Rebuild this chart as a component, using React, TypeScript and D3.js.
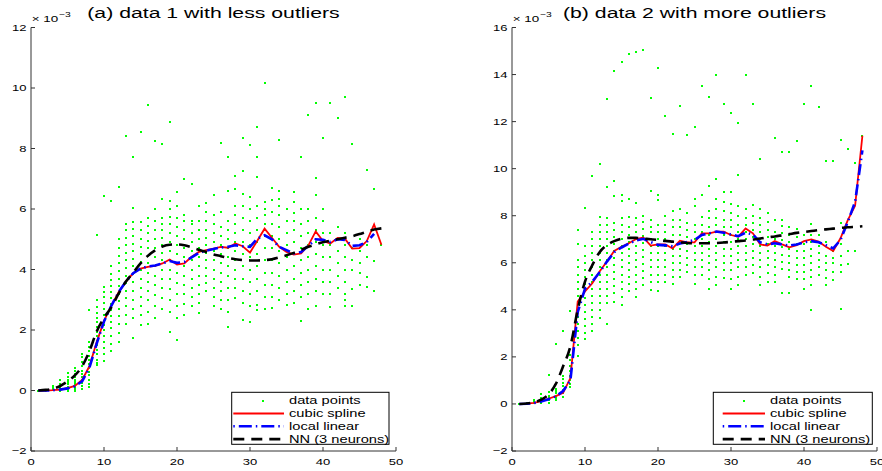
import React from "react";
import * as d3 from "d3";

// ---------- data (values in units of 1e-3) ----------
const xs = d3.range(1, 49);

const splineA = [0, 0, 0.01, 0.03, 0.08, 0.15, 0.35, 0.8, 1.6, 2.3, 2.8, 3.25, 3.6, 3.88, 4.03, 4.09, 4.12, 4.2, 4.33, 4.16, 4.2, 4.42, 4.58, 4.64, 4.69, 4.75, 4.72, 4.86, 4.77, 4.56, 4.95, 5.35, 5.05, 4.75, 4.58, 4.49, 4.53, 4.8, 5.26, 4.94, 4.86, 5.04, 5.02, 4.69, 4.71, 4.94, 5.49, 4.82];
const localA = [0, 0, 0.01, 0.03, 0.07, 0.14, 0.3, 0.75, 1.55, 2.28, 2.8, 3.25, 3.6, 3.88, 4.03, 4.1, 4.13, 4.2, 4.28, 4.22, 4.25, 4.4, 4.55, 4.62, 4.68, 4.73, 4.75, 4.8, 4.77, 4.75, 5.02, 5.13, 5.0, 4.75, 4.64, 4.53, 4.58, 4.78, 5.0, 4.98, 4.91, 5.0, 4.98, 4.78, 4.8, 4.91, 5.18];
const nnA = [0, 0.02, 0.06, 0.15, 0.3, 0.5, 0.8, 1.3, 1.95, 2.4, 2.75, 3.2, 3.6, 3.9, 4.2, 4.45, 4.63, 4.76, 4.82, 4.83, 4.8, 4.73, 4.65, 4.58, 4.5, 4.44, 4.38, 4.34, 4.31, 4.3, 4.3, 4.31, 4.34, 4.4, 4.47, 4.55, 4.65, 4.75, 4.83, 4.9, 4.95, 5.0, 5.05, 5.1, 5.17, 5.25, 5.32, 5.36];

const splineB = [0, 0.01, 0.05, 0.12, 0.22, 0.33, 0.47, 1.1, 4.35, 4.78, 5.13, 5.63, 6.05, 6.5, 6.68, 6.83, 7.01, 7.07, 6.73, 6.78, 6.78, 6.61, 6.94, 6.87, 6.87, 7.25, 7.25, 7.32, 7.32, 7.18, 7.11, 7.46, 7.25, 6.78, 6.73, 6.92, 6.78, 6.66, 6.75, 6.92, 6.99, 6.9, 6.68, 6.5, 7.04, 7.81, 8.42, 11.4];
const localB = [0, 0.01, 0.04, 0.1, 0.2, 0.32, 0.55, 1.0, 3.9, 4.9, 5.2, 5.6, 6.05, 6.45, 6.65, 6.82, 6.95, 7.02, 6.88, 6.76, 6.74, 6.7, 6.82, 6.88, 6.97, 7.18, 7.25, 7.33, 7.28, 7.2, 7.13, 7.28, 7.2, 6.87, 6.78, 6.83, 6.78, 6.73, 6.78, 6.87, 6.92, 6.87, 6.75, 6.61, 6.97, 7.74, 8.59, 10.78];
const nnB = [0, 0.02, 0.07, 0.18, 0.4, 0.85, 1.6, 2.45, 4.0, 5.2, 5.9, 6.45, 6.75, 6.92, 7.02, 7.06, 7.06, 7.03, 7.0, 6.97, 6.93, 6.9, 6.87, 6.84, 6.83, 6.83, 6.83, 6.84, 6.86, 6.89, 6.92, 6.95, 6.99, 7.03, 7.08, 7.12, 7.17, 7.22, 7.27, 7.31, 7.35, 7.39, 7.42, 7.45, 7.48, 7.51, 7.53, 7.55];

const scatterA: [number, number[]][] = [
  [1, [0]],
  [2, [0, 0.02]],
  [3, [0.02, 0.08, 0.14]],
  [4, [0, 0.05, 0.12, 0.2, 0.35]],
  [5, [0, 0.05, 0.12, 0.2, 0.28, 0.36, 0.45, 0.58]],
  [6, [0, 0.06, 0.13, 0.2, 0.28, 0.36, 0.45, 0.55, 0.65, 0.75]],
  [7, [0.05, 0.15, 0.25, 0.35, 0.45, 0.55, 0.65, 0.8, 0.95, 1.1, 1.2]],
  [8, [0.1, 0.2, 0.35, 0.5, 0.62, 0.75, 0.88, 1.0, 1.15, 1.3, 1.45, 1.6, 2.66]],
  [9, [0.85, 0.91, 1.0, 1.2, 1.35, 1.5, 1.65, 1.8, 1.95, 2.1, 2.25, 2.4, 2.55, 2.75, 3.0, 5.15]],
  [10, [0.96, 1.2, 1.4, 1.6, 1.8, 2.0, 2.15, 2.3, 2.5, 2.7, 2.9, 3.1, 3.25, 3.43, 6.43]],
  [11, [1.3, 1.55, 1.8, 2.05, 2.25, 2.45, 2.65, 2.85, 3.05, 3.25, 3.45, 3.65, 3.85, 4.1, 6.26]],
  [12, [1.6, 1.9, 2.2, 2.45, 2.7, 2.95, 3.2, 3.45, 3.7, 3.95, 4.2, 4.45, 4.7, 5.0, 6.74]],
  [13, [2.2, 2.5, 2.8, 3.05, 3.3, 3.55, 3.8, 4.05, 4.3, 4.55, 4.8, 5.05, 5.3, 5.5, 8.42]],
  [14, [1.73, 2.4, 2.7, 3.0, 3.3, 3.6, 3.85, 4.1, 4.35, 4.6, 4.85, 5.1, 5.35, 5.57, 6.04, 7.71]],
  [15, [2.17, 2.5, 2.8, 3.1, 3.4, 3.7, 4.0, 4.25, 4.5, 4.75, 5.0, 5.3, 5.57, 8.53]],
  [16, [2.2, 2.6, 3.0, 3.3, 3.6, 3.9, 4.2, 4.45, 4.7, 4.95, 5.2, 5.45, 5.7, 9.45]],
  [17, [2.4, 2.8, 3.15, 3.5, 3.8, 4.1, 4.4, 4.7, 5.0, 5.3, 5.6, 6.0, 8.26]],
  [18, [2.7, 3.05, 3.4, 3.7, 4.0, 4.3, 4.55, 4.8, 5.05, 5.3, 5.5, 5.7, 6.34, 8.15]],
  [19, [1.95, 2.6, 3.0, 3.35, 3.7, 4.0, 4.3, 4.6, 4.9, 5.2, 5.5, 5.75, 6.0, 6.27, 8.86]],
  [20, [1.67, 2.4, 2.8, 3.2, 3.55, 3.9, 4.2, 4.5, 4.8, 5.1, 5.4, 5.7, 6.1, 6.56]],
  [21, [2.5, 2.85, 3.2, 3.5, 3.8, 4.1, 4.4, 4.7, 5.0, 5.3, 5.6, 5.8, 7.0]],
  [22, [2.8, 3.1, 3.4, 3.7, 4.0, 4.3, 4.6, 4.9, 5.2, 5.5, 5.6, 6.83]],
  [23, [2.55, 2.9, 3.2, 3.5, 3.8, 4.1, 4.4, 4.7, 5.0, 5.3, 5.6, 6.1]],
  [24, [3.3, 3.55, 3.8, 4.05, 4.3, 4.55, 4.8, 5.05, 5.3, 5.6, 5.9, 6.2]],
  [25, [2.8, 3.1, 3.4, 3.7, 4.0, 4.3, 4.6, 4.9, 5.2, 5.5, 5.8, 6.47]],
  [26, [2.7, 3.0, 3.3, 3.6, 3.9, 4.2, 4.5, 4.8, 5.1, 5.4, 5.9, 8.18]],
  [27, [2.1, 2.6, 3.0, 3.4, 3.8, 4.1, 4.4, 4.7, 5.0, 5.3, 5.6, 6.61, 7.73]],
  [28, [3.05, 3.4, 3.7, 4.0, 4.3, 4.6, 4.9, 5.2, 5.5, 5.8, 6.1, 6.67, 7.1]],
  [29, [2.33, 2.9, 3.3, 3.7, 4.1, 4.5, 4.9, 5.3, 5.7, 6.1, 6.5, 7.25, 8.35]],
  [30, [2.28, 2.8, 3.2, 3.6, 4.0, 4.4, 4.8, 5.2, 5.6, 6.0, 6.4, 8.12]],
  [31, [2.66, 2.82, 3.3, 3.7, 4.1, 4.5, 4.9, 5.3, 5.7, 6.1, 7.07, 7.71, 8.7]],
  [32, [2.71, 3.1, 3.5, 3.9, 4.3, 4.7, 5.1, 5.5, 5.8, 6.0, 6.23, 10.18]],
  [33, [2.74, 3.1, 3.5, 3.9, 4.3, 4.7, 5.1, 5.5, 5.9, 6.3, 6.71]],
  [34, [3.0, 3.4, 3.8, 4.2, 4.6, 5.0, 5.4, 5.8, 6.1, 6.34, 6.58, 8.28]],
  [35, [2.82, 3.2, 3.6, 4.0, 4.4, 4.8, 5.2, 5.6, 6.0]],
  [36, [2.88, 3.3, 3.7, 4.1, 4.5, 4.9, 5.3, 5.6, 5.88, 6.23, 6.56]],
  [37, [2.31, 3.1, 3.5, 3.9, 4.3, 4.7, 5.1, 5.5, 6.0, 7.71]],
  [38, [2.71, 3.2, 3.6, 4.0, 4.4, 4.8, 5.2, 5.6, 6.0, 9.1]],
  [39, [2.79, 3.3, 3.7, 4.1, 4.5, 4.9, 5.3, 5.7, 6.45, 7.02, 9.52]],
  [40, [3.2, 3.6, 4.0, 4.4, 4.8, 5.2, 5.6, 6.0, 8.35]],
  [41, [2.75, 3.2, 3.6, 4.0, 4.4, 4.8, 5.2, 9.52]],
  [42, [3.4, 3.8, 4.2, 4.6, 5.0, 5.4, 9.02]],
  [43, [2.79, 3.0, 3.2, 3.6, 4.0, 4.4, 4.8, 5.2, 9.69]],
  [44, [2.78, 3.37, 3.98, 4.3, 4.7, 8.15]],
  [45, [3.5, 3.88, 4.2, 4.6, 5.0]],
  [46, [3.43, 3.75, 4.4, 4.8, 7.3]],
  [47, [3.3, 4.29, 6.67]],
  [48, [4.82]],
];

const scatterB: [number, number[]][] = [
  [1, [0]],
  [2, [0, 0.03]],
  [3, [0.03, 0.08, 0.15]],
  [4, [0.05, 0.15, 0.25, 0.42]],
  [5, [0.05, 0.15, 0.25, 0.35, 0.5, 1.21]],
  [6, [0.15, 0.25, 0.35, 0.45, 0.55, 0.65, 2.56]],
  [7, [0.3, 0.45, 0.6, 0.75, 0.9, 1.05, 1.2, 3.08]],
  [8, [0.7, 0.85, 1.0, 1.2, 1.4, 1.6, 1.85, 2.1, 3.93]],
  [9, [2.05, 2.5, 2.8, 3.1, 3.4, 3.7, 4.0, 4.3, 4.6, 4.9, 5.2, 5.5, 5.8, 6.1, 6.8, 7.39]],
  [10, [2.77, 3.0, 3.3, 3.6, 3.9, 4.2, 4.5, 4.8, 5.1, 5.4, 5.7, 6.0, 6.3, 6.7, 8.34]],
  [11, [3.1, 3.4, 3.7, 4.0, 4.3, 4.6, 4.9, 5.2, 5.5, 5.8, 6.1, 6.4, 6.7, 7.0, 7.3, 9.69]],
  [12, [3.65, 4.0, 4.3, 4.6, 4.9, 5.2, 5.5, 5.8, 6.1, 6.4, 6.7, 7.0, 7.3, 7.6, 7.95, 10.19]],
  [13, [3.39, 4.3, 4.6, 4.9, 5.2, 5.5, 5.8, 6.1, 6.4, 6.7, 7.0, 7.3, 7.6, 7.9, 9.23, 12.97]],
  [14, [4.35, 4.7, 5.0, 5.3, 5.6, 5.9, 6.2, 6.5, 6.8, 7.1, 7.4, 7.7, 8.85, 9.47, 14.17]],
  [15, [4.2, 4.55, 4.9, 5.2, 5.5, 5.8, 6.1, 6.4, 6.7, 7.0, 7.3, 7.6, 7.9, 8.63, 8.9, 14.52]],
  [16, [4.8, 5.1, 5.4, 5.7, 6.0, 6.3, 6.6, 6.9, 7.2, 7.5, 7.95, 8.73, 14.86]],
  [17, [4.55, 4.9, 5.2, 5.5, 5.8, 6.1, 6.4, 6.7, 7.0, 7.3, 7.6, 7.9, 8.55, 14.97]],
  [18, [5.05, 5.35, 5.65, 5.95, 6.25, 6.55, 6.85, 7.15, 7.45, 7.75, 8.0, 15.06]],
  [19, [4.85, 5.2, 5.5, 5.8, 6.1, 6.4, 6.7, 7.0, 7.3, 7.5, 7.8, 9.04, 13.02]],
  [20, [4.8, 5.2, 5.5, 5.8, 6.1, 6.4, 6.7, 7.0, 7.3, 7.6, 8.65, 8.87, 14.27]],
  [21, [5.2, 5.5, 5.8, 6.1, 6.4, 6.7, 7.0, 7.3, 7.6, 8.0, 12.23]],
  [22, [5.1, 5.4, 5.7, 6.0, 6.3, 6.6, 6.9, 7.2, 7.5, 7.8, 8.2, 11.46]],
  [23, [5.4, 5.7, 6.0, 6.3, 6.6, 6.9, 7.2, 7.5, 7.8, 8.3, 12.66]],
  [24, [5.6, 5.9, 6.2, 6.5, 6.8, 7.1, 7.4, 7.7, 8.1, 11.41]],
  [25, [5.1, 5.5, 5.8, 6.1, 6.4, 6.7, 7.0, 7.3, 7.6, 8.4, 8.7, 11.77]],
  [26, [5.5, 5.8, 6.1, 6.4, 6.7, 7.0, 7.3, 7.6, 7.95, 8.87, 13.5]],
  [27, [4.9, 5.3, 5.7, 6.0, 6.3, 6.6, 6.9, 7.2, 7.5, 7.9, 8.2, 9.27, 13.04]],
  [28, [5.05, 5.4, 5.8, 6.1, 6.4, 6.7, 7.0, 7.3, 7.6, 7.9, 8.3, 8.7, 9.55, 13.98]],
  [29, [5.35, 5.7, 6.0, 6.3, 6.6, 6.9, 7.2, 7.5, 7.8, 8.2, 8.6, 9.0, 12.73]],
  [30, [4.9, 5.3, 5.7, 6.0, 6.3, 6.6, 6.9, 7.2, 7.5, 7.8, 8.1, 8.5, 9.0, 12.36]],
  [31, [5.05, 5.4, 5.8, 6.1, 6.4, 6.7, 7.0, 7.3, 7.6, 8.0, 8.4, 9.72, 11.95]],
  [32, [5.5, 5.8, 6.1, 6.4, 6.7, 7.0, 7.3, 7.6, 7.9, 8.3, 13.98]],
  [33, [5.55, 5.9, 6.2, 6.5, 6.8, 7.1, 7.4, 7.7, 8.0, 8.45, 12.76]],
  [34, [5.05, 5.4, 5.8, 6.1, 6.4, 6.7, 7.0, 7.3, 7.6, 7.9, 8.3, 10.43]],
  [35, [5.2, 5.55, 5.9, 6.2, 6.5, 6.8, 7.1, 7.4, 7.75, 8.1]],
  [36, [5.2, 5.5, 5.8, 6.1, 6.4, 6.7, 7.0, 7.3, 7.8, 11.3]],
  [37, [4.7, 5.75, 6.05, 6.35, 6.65, 6.95, 7.25, 7.55, 7.8, 10.71]],
  [38, [4.7, 5.4, 5.7, 6.0, 6.3, 6.6, 6.9, 7.2, 7.5, 10.71]],
  [39, [5.3, 5.6, 5.9, 6.2, 6.5, 6.8, 7.1, 7.45, 11.16]],
  [40, [4.9, 5.3, 5.6, 5.9, 6.2, 6.5, 6.8, 7.2, 12.76]],
  [41, [4.0, 5.05, 5.4, 5.7, 6.0, 6.3, 6.6, 6.9, 7.2, 7.65, 13.53]],
  [42, [5.5, 5.8, 6.1, 6.4, 6.7, 7.2, 12.64]],
  [43, [5.05, 5.35, 5.7, 6.0, 6.3, 6.9, 10.31]],
  [44, [5.27, 5.6, 6.0, 6.2, 6.5, 10.31]],
  [45, [4.04, 5.6, 5.9, 6.3, 6.8, 7.7, 11.23]],
  [46, [5.94, 6.5, 10.82]],
  [47, [6.5, 10.24]],
  [48, [11.4]],
];

const yTicksA = [-2, 0, 2, 4, 6, 8, 10, 12];
const yTicksB = [-2, 0, 2, 4, 6, 8, 10, 12, 14, 16];
const xTicks = [0, 10, 20, 30, 40, 50];
const legendLabels = ["data points", "cubic spline", "local linear", "NN (3 neurons)"];

// ---------- styling ----------
const FONT = "'Liberation Sans', Arial, Helvetica, sans-serif";
const SX = 1.37;
const AXIS = "#333";

type PanelProps = {
  x0: number; x1: number; yMax: number; yTicks: number[]; title: string;
  scatter: [number, number[]][]; spline: number[]; local: number[]; nn: number[];
  leg: { x: number; w: number; l1: number; l2: number; dot: number; tx: number };
};

function Panel(p: PanelProps) {
  const yTop = 27.5, yBot = 451;
  const x = d3.scaleLinear().domain([0, 50]).range([p.x0, p.x1]);
  const y = d3.scaleLinear().domain([-2, p.yMax]).range([yBot, yTop]);
  const line = (vals: number[], curve: d3.CurveFactory) =>
    d3.line<number>().x((_, i) => x(xs[i])).y((v) => y(v)).curve(curve)(vals) || "";
  const pts: { x: number; y: number }[] = [];
  p.scatter.forEach(([xv, vals]) => vals.forEach((v) => pts.push({ x: xv, y: v })));
  const cx = (p.x0 + p.x1) / 2;
  const legTop = 392.3, rowH = 12.8, row0 = 400.7;
  const t = (tx: number, ty: number) => `translate(${tx},${ty}) scale(${SX},1)`;
  return (
    <g fontFamily={FONT}>
      {/* axes */}
      <line x1={p.x0} x2={p.x0} y1={yTop} y2={yBot} stroke={AXIS} strokeWidth={1} />
      <line x1={p.x0} x2={p.x1} y1={yBot} y2={yBot} stroke={AXIS} strokeWidth={1} />
      {p.yTicks.map((tv) => (
        <g key={"y" + tv}>
          <line x1={p.x0} x2={p.x0 + 4} y1={y(tv)} y2={y(tv)} stroke={AXIS} />
          <text transform={t(p.x0 - 4.5, y(tv) + 3.4)} textAnchor="end" fontSize={9.5} fill="#000">
            {tv < 0 ? "\u2212" + Math.abs(tv) : String(tv)}
          </text>
        </g>
      ))}
      {xTicks.map((tv) => (
        <g key={"x" + tv}>
          <line x1={x(tv)} x2={x(tv)} y1={yBot} y2={yBot - 4} stroke={AXIS} />
          <text transform={t(x(tv), 464.5)} textAnchor="middle" fontSize={9.5} fill="#000">
            {tv}
          </text>
        </g>
      ))}
      <text transform={t(p.x0 + 0.7, 22)} fontSize={9.8} fill="#000">{"\u00d7 10"}</text>
      <text transform={t(p.x0 + 28, 16.5)} fontSize={7.5} fill="#000">{"\u22123"}</text>
      <text transform={t(cx, 18)} textAnchor="middle" fontSize={15.5} fill="#000">{p.title}</text>

      {/* data */}
      <g shapeRendering="crispEdges">
        {pts.map((d, i) => (
          <rect key={i} x={Math.round(x(d.x)) - 1} y={Math.round(y(d.y)) - 1} width={2} height={2} fill="#00ff00" />
        ))}
      </g>
      <path d={line(p.spline, d3.curveLinear)} fill="none" stroke="#ff0000" strokeWidth={1.8} />
      <path d={line(p.local, d3.curveLinear)} fill="none" stroke="#0000ff" strokeWidth={2.6} strokeDasharray="11,4,1.5,4" />
      <path d={line(p.nn, d3.curveMonotoneX)} fill="none" stroke="#000" strokeWidth={2.6} strokeDasharray="11,7" />

      {/* legend */}
      <rect x={p.leg.x} y={legTop} width={p.leg.w} height={52} fill="#fff" stroke="#000" strokeWidth={1} />
      <rect x={p.leg.dot - 1} y={Math.round(row0) - 1} width={2} height={2} fill="#00ff00" shapeRendering="crispEdges" />
      <line x1={p.leg.l1} x2={p.leg.l2} y1={row0 + rowH} y2={row0 + rowH} stroke="#ff0000" strokeWidth={1.8} />
      <line x1={p.leg.l1} x2={p.leg.l2} y1={row0 + 2 * rowH} y2={row0 + 2 * rowH} stroke="#0000ff" strokeWidth={2.6} strokeDasharray="1.5,4,13,4" />
      <line x1={p.leg.l1} x2={p.leg.l2} y1={row0 + 3 * rowH} y2={row0 + 3 * rowH} stroke="#000" strokeWidth={2.6} strokeDasharray="11,7" />
      {legendLabels.map((lab, i) => (
        <text key={lab} transform={t(p.leg.tx, row0 + i * rowH + 3.7)} fontSize={10.7} fill="#000">{lab}</text>
      ))}
    </g>
  );
}

export default function App() {
  return (
    <svg width={882} height={471} style={{ position: "absolute", left: 0, top: 0, background: "#fff" }}>
      <rect width={882} height={471} fill="#fff" />
      <Panel x0={31} x1={396} yMax={12} yTicks={yTicksA} title="(a) data 1 with less outliers"
        scatter={scatterA} spline={splineA} local={localA} nn={nnA}
        leg={{ x: 231.7, w: 157.3, l1: 233.3, l2: 284, dot: 263, tx: 289 }} />
      <Panel x0={512} x1={877} yMax={16} yTicks={yTicksB} title="(b) data 2 with more outliers"
        scatter={scatterB} spline={splineB} local={localB} nn={nnB}
        leg={{ x: 713.3, w: 159, l1: 722.7, l2: 765, dot: 744, tx: 770 }} />
    </svg>
  );
}
